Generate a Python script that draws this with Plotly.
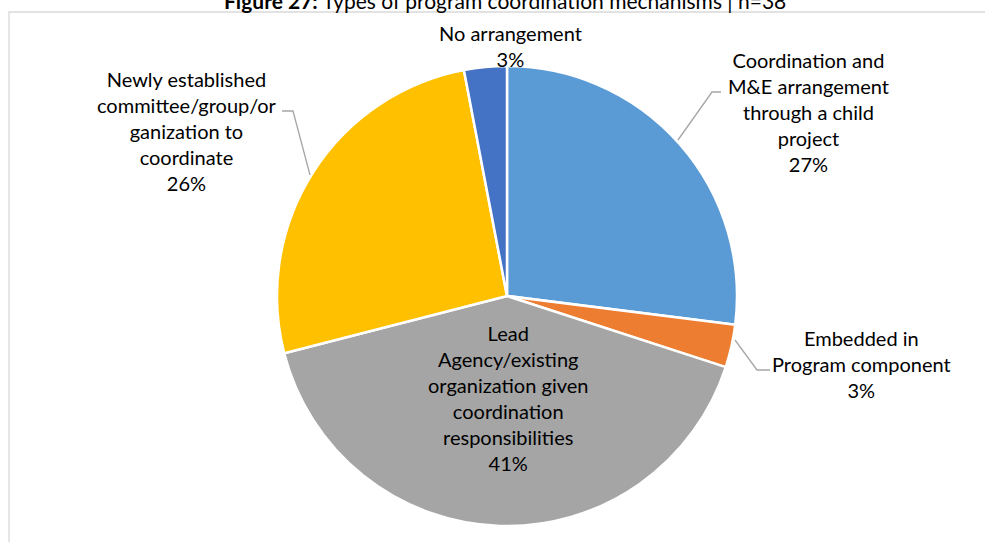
import plotly.graph_objects as go

# ---- data ----
categories = [
    "Coordination and M&E arrangement through a child project",
    "Embedded in Program component",
    "Lead Agency/existing organization given coordination responsibilities",
    "Newly established committee/group/organization to coordinate",
    "No arrangement",
]
display_labels = [
    "Coordination and<br>M&E arrangement<br>through a child<br>project",
    "Embedded in<br>Program component",
    "Lead<br>Agency/existing<br>organization given<br>coordination<br>responsibilities",
    "Newly established<br>committee/group/or<br>ganization to<br>coordinate",
    "No arrangement",
]
values = [27, 3, 41, 26, 3]
colors = ["#5B9BD5", "#ED7D31", "#A5A5A5", "#FFC000", "#4472C4"]

title_bold = "Figure 27:"
title_rest = " Types of program coordination mechanisms | n=38"

W, H = 985, 542
FONT = "Lato"

# pie geometry (pixels)
cx, cy, r = 507, 296, 230

fig = go.Figure()
fig.add_trace(go.Pie(
    labels=categories,
    values=values,
    sort=False,
    direction="clockwise",
    rotation=0,
    marker=dict(colors=colors, line=dict(color="white", width=2.5)),
    textinfo="none",
    hoverinfo="label+percent",
    showlegend=False,
    domain=dict(x=[(cx - r) / W, (cx + r) / W], y=[(H - cy - r) / H, (H - cy + r) / H]),
))

# label placement (pixel centres of the text blocks)
label_pos = [(808, 112), (861, 364), (508, 398), (187, 131), (511, 46)]

def px(x):
    return x / W

def py(y):
    return 1 - y / H

for lab, v, (lx, ly) in zip(display_labels, values, label_pos):
    fig.add_annotation(
        x=px(lx), y=py(ly), xref="paper", yref="paper",
        text=f"{lab}<br>{v}%", showarrow=False,
        xanchor="center", yanchor="middle", align="center",
        font=dict(family=FONT, size=20, color="#000000"),
    )

# leader lines
leaders = [
    [(678, 140), (712, 92), (721, 92)],
    [(735, 340), (757, 370), (770, 370)],
    [(310, 175), (293, 111), (282, 111)],
]
for pts in leaders:
    path = "M " + " L ".join(f"{px(x)},{py(y)}" for x, y in pts)
    fig.add_shape(type="path", path=path, xref="paper", yref="paper",
                  line=dict(color="#A6A6A6", width=1.3))

# chart frame
fig.add_shape(type="rect", xref="paper", yref="paper",
              x0=px(9), y0=py(560), x1=px(1000), y1=py(12),
              line=dict(color="#D9D9D9", width=1.3), fillcolor="rgba(0,0,0,0)", layer="below")

# title (cut off at top, as in the source image)
fig.add_annotation(
    x=px(505), y=py(0), xref="paper", yref="paper",
    text=f"<b>{title_bold}</b>{title_rest}", showarrow=False,
    xanchor="center", yanchor="middle",
    font=dict(family=FONT, size=21, color="#000000"),
)

fig.update_layout(
    width=W, height=H,
    margin=dict(l=0, r=0, t=0, b=0),
    paper_bgcolor="white", plot_bgcolor="white",
)

fig.write_html(
    "out.html",
    config={"displayModeBar": False},
    post_script="document.body.style.margin='0';document.body.style.overflow='hidden';",
)
